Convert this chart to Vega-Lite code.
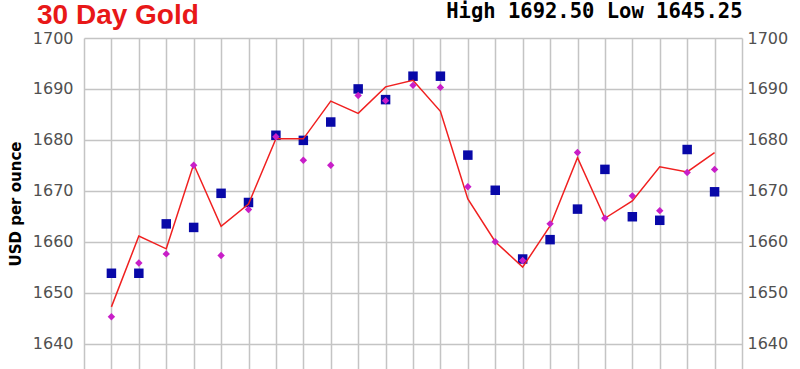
{
  "$schema": "https://vega.github.io/schema/vega-lite/v6.json",
  "autosize": {"type": "none"},
  "width": 658,
  "height": 331,
  "padding": {"left": 84, "top": 38, "right": 58, "bottom": 0},
  "background": "white",
  "title": {
    "text": "30 Day Gold",
    "anchor": "start",
    "frame": "group",
    "dx": -47,
    "dy": 33,
    "font": "Liberation Sans",
    "fontSize": 28,
    "fontWeight": "bold",
    "color": "#e81818"
  },
  "config": {
    "view": {"stroke": null},
    "axis": {"gridColor": "#c4c4c4", "gridWidth": 1.5, "gridOpacity": 1}
  },
  "data": {
    "values": [
      {"d": 1, "pm": 1653.8, "am": 1645.25, "close": 1647.2},
      {"d": 2, "pm": 1653.8, "am": 1655.8, "close": 1661.1},
      {"d": 3, "pm": 1663.5, "am": 1657.6, "close": 1658.6},
      {"d": 4, "pm": 1662.8, "am": 1675.0, "close": 1675.2},
      {"d": 5, "pm": 1669.5, "am": 1657.3, "close": 1663.0},
      {"d": 6, "pm": 1667.7, "am": 1666.3, "close": 1667.4},
      {"d": 7, "pm": 1680.9, "am": 1680.6, "close": 1680.2},
      {"d": 8, "pm": 1679.9, "am": 1676.0, "close": 1680.2},
      {"d": 9, "pm": 1683.5, "am": 1675.0, "close": 1687.6},
      {"d": 10, "pm": 1690.0, "am": 1688.7, "close": 1685.2},
      {"d": 11, "pm": 1687.9, "am": 1687.7, "close": 1690.4},
      {"d": 12, "pm": 1692.5, "am": 1690.7, "close": 1691.7},
      {"d": 13, "pm": 1692.5, "am": 1690.3, "close": 1685.6},
      {"d": 14, "pm": 1677.0, "am": 1670.8, "close": 1668.4},
      {"d": 15, "pm": 1670.1, "am": 1660.0, "close": 1660.0},
      {"d": 16, "pm": 1656.6, "am": 1656.3, "close": 1655.0},
      {"d": 17, "pm": 1660.4, "am": 1663.5, "close": 1663.1},
      {"d": 18, "pm": 1666.4, "am": 1677.5, "close": 1676.5},
      {"d": 19, "pm": 1674.2, "am": 1664.6, "close": 1664.6},
      {"d": 20, "pm": 1664.9, "am": 1669.0, "close": 1668.0},
      {"d": 21, "pm": 1664.2, "am": 1666.1, "close": 1674.7},
      {"d": 22, "pm": 1678.1, "am": 1673.6, "close": 1673.7},
      {"d": 23, "pm": 1669.8, "am": 1674.2, "close": 1677.5}
    ]
  },
  "encoding": {
    "x": {
      "field": "d",
      "type": "quantitative",
      "scale": {"domain": [0, 24], "nice": false, "zero": false},
      "axis": {
        "orient": "top",
        "values": [0,1,2,3,4,5,6,7,8,9,10,11,12,13,14,15,16,17,18,19,20,21,22,23,24],
        "labels": false,
        "ticks": false,
        "domain": false,
        "grid": true,
        "title": "High 1692.50 Low 1645.25",
        "titleAnchor": "end",
        "titleAlign": "right",
        "titleFont": "DejaVu Sans Mono",
        "titleFontSize": 20.5,
        "titleFontWeight": "bold",
        "titleColor": "#000000",
        "titlePadding": 17
      }
    }
  },
  "layer": [
    {
      "mark": {"type": "square", "color": "#0808a8", "opacity": 1, "size": 90},
      "encoding": {
        "y": {
          "field": "pm",
          "type": "quantitative",
          "scale": {"domain": [1635, 1700], "nice": false, "zero": false},
          "axis": {
            "orient": "left",
            "values": [1640, 1650, 1660, 1670, 1680, 1690, 1700],
            "format": "d",
            "grid": true,
            "ticks": false,
            "domain": false,
            "labelFont": "DejaVu Sans",
            "labelFontSize": 16,
            "labelColor": "#505050",
            "labelPadding": 11,
            "title": "USD per ounce",
            "titleFont": "DejaVu Sans",
            "titleFontSize": 15,
            "titleFontWeight": "bold",
            "titleColor": "#000000",
            "titlePadding": 9
          }
        }
      }
    },
    {
      "mark": {"type": "line", "color": "#f02020", "strokeWidth": 1.5},
      "encoding": {
        "y": {
          "field": "close",
          "type": "quantitative",
          "scale": {"domain": [1635, 1700], "nice": false, "zero": false},
          "axis": {
            "orient": "right",
            "values": [1640, 1650, 1660, 1670, 1680, 1690, 1700],
            "format": "d",
            "grid": false,
            "ticks": false,
            "domain": false,
            "labelFont": "DejaVu Sans",
            "labelFontSize": 16,
            "labelColor": "#505050",
            "labelPadding": 5,
            "title": null
          }
        }
      }
    },
    {
      "mark": {"type": "point", "shape": "diamond", "filled": true, "color": "#c81ec8", "opacity": 1, "size": 55},
      "encoding": {
        "y": {
          "field": "am",
          "type": "quantitative",
          "scale": {"domain": [1635, 1700], "nice": false, "zero": false},
          "axis": null
        }
      }
    }
  ],
  "resolve": {"scale": {"y": "independent"}, "axis": {"y": "independent"}}
}
